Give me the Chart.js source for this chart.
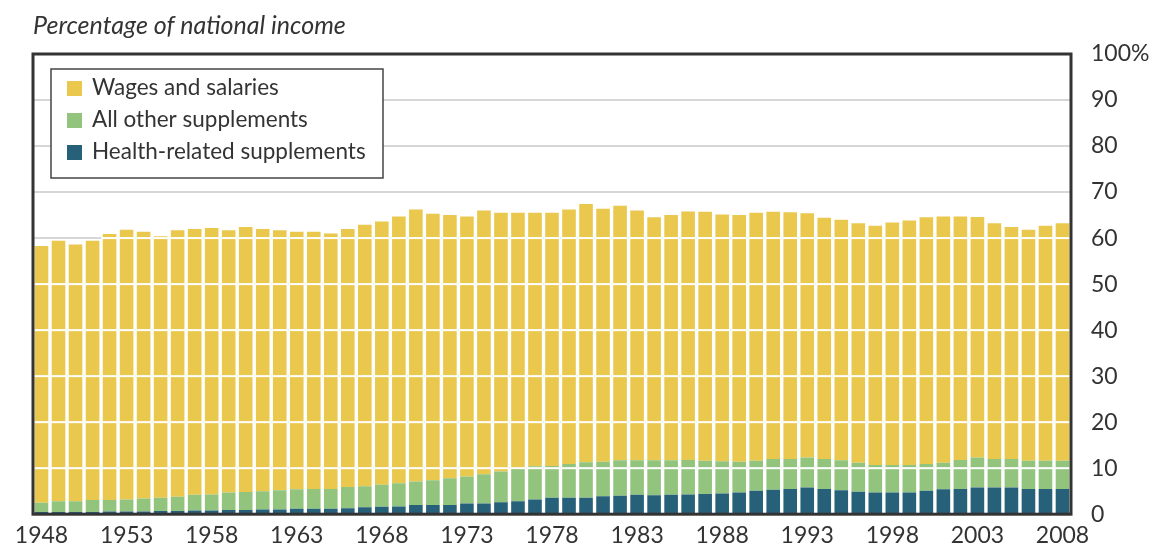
<!DOCTYPE html>
<html>
<head>
<meta charset="utf-8">
<script src="https://cdn.jsdelivr.net/npm/chart.js@4.4.0/dist/chart.umd.min.js"></script>
<style>
  html, body { margin: 0; padding: 0; background: #fff; }
  #wrap { width: 1156px; height: 548px; position: relative; }
</style>
</head>
<body>
<div id="wrap"><canvas id="incomeChart" width="1156" height="548"></canvas></div>
<script>
// categories
const years = ['1948','1949','1950','1951','1952','1953','1954','1955','1956','1957',
  '1958','1959','1960','1961','1962','1963','1964','1965','1966','1967',
  '1968','1969','1970','1971','1972','1973','1974','1975','1976','1977',
  '1978','1979','1980','1981','1982','1983','1984','1985','1986','1987',
  '1988','1989','1990','1991','1992','1993','1994','1995','1996','1997',
  '1998','1999','2000','2001','2002','2003','2004','2005','2006','2007','2008'];

// percent of national income
const healthSupplements = [0.5,0.5,0.5,0.5,0.6,0.6,0.6,0.7,0.7,0.8,
  0.8,0.9,0.9,1.0,1.0,1.2,1.2,1.2,1.3,1.5,
  1.6,1.7,2.0,2.0,2.0,2.3,2.3,2.6,2.8,3.2,
  3.6,3.6,3.6,3.9,4.0,4.2,4.1,4.2,4.3,4.4,
  4.5,4.7,5.1,5.3,5.5,5.8,5.5,5.2,4.9,4.7,
  4.7,4.7,5.1,5.4,5.5,5.8,5.8,5.8,5.5,5.5,5.5];

const otherSupplements = [2.0,2.3,2.3,2.6,2.5,2.6,2.8,2.9,3.1,3.4,
  3.5,3.8,3.9,4.0,4.2,4.2,4.3,4.3,4.6,4.6,
  4.8,5.0,5.1,5.4,5.8,5.9,6.4,6.7,7.3,7.2,
  6.9,7.3,7.7,7.5,7.7,7.5,7.6,7.5,7.5,7.2,
  7.0,6.7,6.5,6.7,6.5,6.5,6.5,6.5,6.3,6.0,
  6.0,6.0,5.8,5.8,6.3,6.5,6.2,6.2,6.1,6.1,6.1];

const wagesSalaries = [55.8,56.6,55.8,56.3,57.8,58.6,58.0,56.8,57.9,57.8,
  57.9,57.0,57.6,57.0,56.5,56.0,55.9,55.5,56.1,56.8,
  57.2,58.0,59.1,57.9,57.2,56.5,57.3,56.2,55.4,55.1,
  55.0,55.3,56.1,55.0,55.3,54.3,52.8,53.3,54.0,54.1,
  53.6,53.6,53.9,53.7,53.6,53.1,52.4,52.3,52.0,52.0,
  52.7,53.1,53.6,53.5,52.9,52.3,51.2,50.4,50.2,51.1,51.6];

const yTicks = [0, 10, 20, 30, 40, 50, 60, 70, 80, 90, 100];

const FONT = 'Lato, "Open Sans", sans-serif';
const TEXT = '#333333';

// white gridlines running across the bars
const barGridPlugin = {
  id: 'barGrid',
  afterDatasetsDraw(chart) {
    const ctx = chart.ctx;
    const xs = chart.scales.x, ys = chart.scales.y;
    const pitch = xs.getPixelForValue(1) - xs.getPixelForValue(0);
    ctx.save();
    ctx.strokeStyle = '#ffffff';
    ctx.lineWidth = 2;
    years.forEach(function(y, i) {
      const total = healthSupplements[i] + otherSupplements[i] + wagesSalaries[i];
      const cx = xs.getPixelForValue(i);
      yTicks.forEach(function(v) {
        if (v > 0 && v < 100 && v < total) {
          const py = ys.getPixelForValue(v);
          ctx.beginPath();
          ctx.moveTo(cx - pitch / 2, py);
          ctx.lineTo(cx + pitch / 2, py);
          ctx.stroke();
        }
      });
    });
    ctx.restore();
  }
};

// frame, title and boxed legend
const decorPlugin = {
  id: 'decor',
  afterDraw(chart) {
    const ctx = chart.ctx;
    const a = chart.chartArea;
    ctx.save();
    ctx.strokeStyle = '#333333';
    ctx.lineWidth = 3;
    ctx.strokeRect(a.left, a.top, a.right - a.left, a.bottom - a.top);

    ctx.fillStyle = TEXT;
    ctx.font = 'italic 25px ' + FONT;
    ctx.textBaseline = 'middle';
    ctx.textAlign = 'left';
    ctx.fillText('Percentage of national income', a.left, 26);

    // legend box
    const bx = a.left + 18, by = a.top + 15, bw = 332, bh = 109;
    ctx.fillStyle = '#ffffff';
    ctx.fillRect(bx, by, bw, bh);
    ctx.strokeStyle = '#444444';
    ctx.lineWidth = 1.5;
    ctx.strokeRect(bx, by, bw, bh);
    const items = chart.data.datasets.slice().reverse();
    ctx.font = '22.5px ' + FONT;
    items.forEach(function(ds, k) {
      const cy = by + 19 + k * 32;
      ctx.fillStyle = ds.backgroundColor;
      ctx.fillRect(bx + 16, cy - 7, 15, 15);
      ctx.fillStyle = TEXT;
      ctx.fillText(ds.label, bx + 41, cy);
    });
    ctx.restore();
  }
};

document.addEventListener('DOMContentLoaded', function() {
  const ctx = document.getElementById('incomeChart').getContext('2d');
  new Chart(ctx, {
    type: 'bar',
    data: {
      labels: years,
      datasets: [{
        label: 'Health-related supplements',
        data: healthSupplements,
        backgroundColor: '#276079'
      }, {
        label: 'All other supplements',
        data: otherSupplements,
        backgroundColor: '#93c47e'
      }, {
        label: 'Wages and salaries',
        data: wagesSalaries,
        backgroundColor: '#eac84e'
      }]
    },
    options: {
      responsive: false,
      animation: false,
      layout: { padding: { left: 33, top: 54, right: 0, bottom: 0 } },
      datasets: { bar: { barPercentage: 0.8, categoryPercentage: 1.0, borderWidth: 0 } },
      plugins: {
        legend: { display: false },
        tooltip: { enabled: false }
      },
      scales: {
        x: {
          stacked: true,
          grid: { display: false, drawTicks: false },
          border: { display: false },
          ticks: {
            autoSkip: false,
            maxRotation: 0,
            padding: 10,
            color: TEXT,
            font: { family: FONT, size: 23, lineHeight: 1 },
            callback: function(val, idx) {
              return idx % 5 === 0 ? years[idx] : '';
            }
          },
          afterFit: function(scale) { scale.height = 30; }
        },
        y: {
          stacked: true,
          position: 'right',
          min: 0,
          max: 100,
          afterBuildTicks: function(scale) {
            scale.ticks = yTicks.map(function(v) { return { value: v }; });
          },
          grid: {
            color: function(c) {
              return (c.tick.value === 0 || c.tick.value === 100) ? 'rgba(0,0,0,0)' : '#d6d6d6';
            },
            lineWidth: 2,
            drawTicks: false
          },
          border: { display: false },
          ticks: {
            padding: 20,
            color: TEXT,
            font: { family: FONT, size: 23 },
            callback: function(v) { return v === 100 ? '100%' : v; }
          },
          afterFit: function(scale) { scale.width = 85; }
        }
      }
    },
    plugins: [barGridPlugin, decorPlugin]
  });
});
</script>
</body>
</html>
